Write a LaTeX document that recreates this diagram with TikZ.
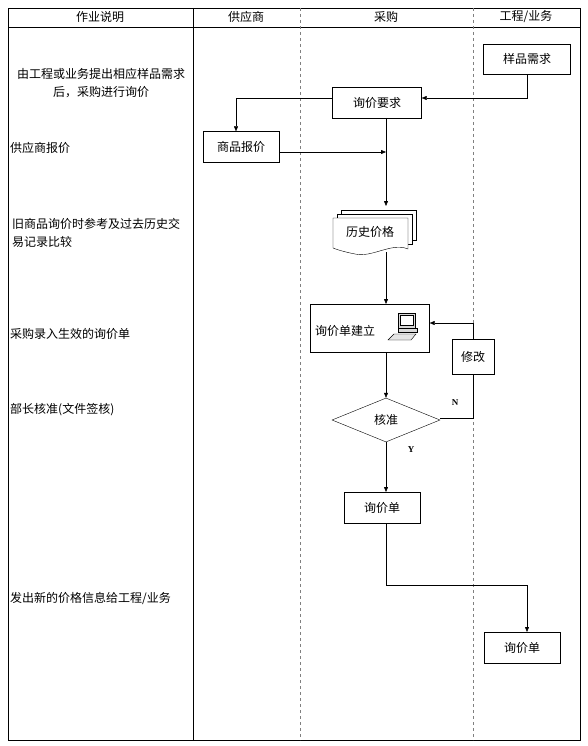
\documentclass[tikz,border=0pt]{standalone}
\usepackage{fontspec}
\setmainfont{Liberation Serif}
\newfontfamily\cjk{Noto Sans CJK SC}
\usetikzlibrary{arrows.meta, positioning, shapes.geometric}

\begin{document}
\begin{tikzpicture}[x=1pt,y=-1pt,thin,font=\cjk\fontsize{12}{18}\selectfont,
		>={Triangle[length=5pt,width=4pt]}]

	\tikzset{
		box/.style={
				draw, fill=white, minimum width=76pt, minimum height=31pt, inner sep=2pt
			},
		check/.style={
				diamond, draw, fill=white, aspect=2.45, minimum width=108pt, minimum height=44pt, inner sep=0pt
			},
		lane/.style={
				draw=gray, dashed
			},
		note/.style={
				anchor=west, align=left, inner sep=0pt
			},
	}
	\useasboundingbox (0,0) rectangle (588,746);

	% table
	\draw (8,8) rectangle (580,740);
	\draw (8,27) -- (580,27);
	\draw (193,8) -- (193,740);
	\draw[lane] (300,8) -- (300,740);
	\draw[lane] (473,8) -- (473,740);
	\node at (100,17) {作业说明};
	\node at (246,17) {供应商};
	\node at (386,17) {采购};
	\node at (526,17) {工程/业务};

	% notes
	\node[align=center] at (101,83) {由工程或业务提出相应样品需求\\后，采购进行询价};
	\node[note] at (10,148) {供应商报价};
	\node[note] at (12,233) {旧商品询价时参考及过去历史交\\易记录比较};
	\node[note] at (10,334) {采购录入生效的询价单};
	\node[note] at (10,410) {部长核准(文件签核)};
	\node[note] at (10,598) {发出新的价格信息给工程/业务};

	% steps
	\node[box, minimum width=87pt, minimum height=30pt] (need) at (527,59) {样品需求};
	\node[box, minimum width=89pt] (ask) at (377,103) {询价要求};
	\node[box] (quote) at (241,147) {商品报价};
	\node[box, minimum width=119pt, minimum height=48pt, text width=110pt, align=left] (build) at (370,328) {\\[-2pt]询价单建立};
	\node[box, minimum width=42pt, minimum height=35pt] (edit) at (473,357) {修改};
	\node[check] (ok) at (386,420) {核准};
	\node[box] (sheet) at (382,508) {询价单};
	\node[box] (sheet2) at (522,648) {询价单};

	% history documents
	\foreach \d in {8,4} {
		\draw[fill=white] (333+\d,218-\d) -- (408+\d,218-\d) -- (408+\d,248-\d) -- (333+\d,248-\d) -- cycle;
	}
	\draw[fill=white] (333,218) -- (408,218) -- (408,249)
		.. controls (392,242) and (372,258) .. (355,254)
		.. controls (345,252) and (338,250) .. (333,248) -- cycle;
	\node (hist) at (370,232) {历史价格};
	\coordinate (histtop) at (386,206);
	\coordinate (histbot) at (386,252);

	% computer icon
	\begin{scope}[shift={(398,313)}]
		\draw[fill=gray!30] (0,0) rectangle (17,15);
		\draw[fill=white] (2,2) rectangle (15,12);
		\draw[fill=gray!30] (0,15) -- (19,15) -- (19,19) -- (0,19) -- cycle;
		\draw[fill=gray!20] (-10,27) -- (-4,21) -- (18,21) -- (13,27) -- cycle;
	\end{scope}

	% flow
	\coordinate (c1) at (527,98);
	\draw[->] (need.south) -- (c1) -- (ask.east |- c1);
	\coordinate (c2) at (236,98);
	\draw[->] (ask.west |- c2) -- (c2) -- (c2 |- quote.north);
	\coordinate (c3) at (386,152);
	\draw[->] (quote.east |- c3) -- (c3);
	\draw[->] (386,118) -- (histtop);
	\draw[->] (histbot) -- (386,304);
	\draw[->] (386,352) -- (ok.north);
	\coordinate (c4) at (473,418);
	\draw (ok.east |- c4) -- (c4) -- (edit.south);
	\coordinate (c5) at (473,323);
	\draw[->] (edit.north) -- (c5) -- (build.east |- c5);
	\node[font=\bfseries\small] at (455,403) {N};
	\node[font=\bfseries\small] at (411,450) {Y};
	\draw[->] (ok.south) -- (386,492);
	\coordinate (c6) at (386,585);
	\coordinate (c7) at (527,585);
	\draw[->] (386,524) -- (c6) -- (c7) -- (527,632);
\end{tikzpicture}
\end{document}
